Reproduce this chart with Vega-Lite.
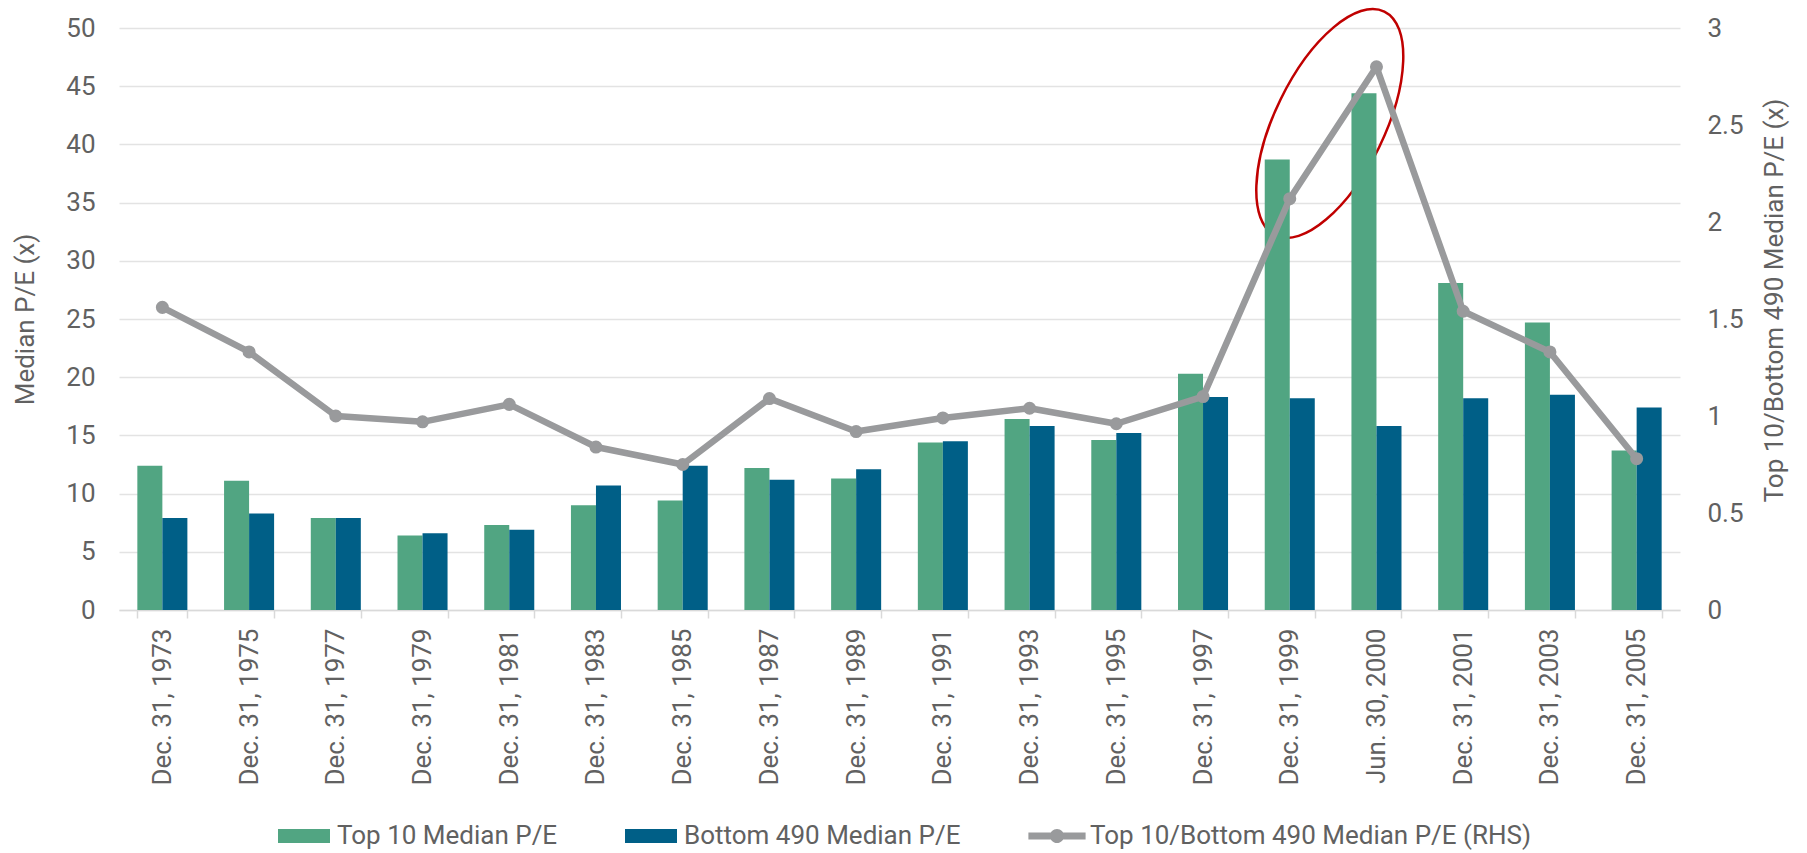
{
  "$schema": "https://vega.github.io/schema/vega-lite/v6.json",
  "width": 1561,
  "height": 582,
  "autosize": {"type": "none"},
  "padding": {"left": 119, "top": 28, "right": 127, "bottom": 243},
  "background": "white",
  "config": {
    "view": {"stroke": null},
    "font": "Roboto",
    "axis": {"labelFont": "Roboto", "titleFont": "Roboto", "labelFontSize": 26, "titleFontSize": 26, "labelColor": "#616161", "titleColor": "#616161", "titleFontWeight": "normal"},
    "legend": {"labelFont": "Roboto", "labelFontSize": 26, "labelColor": "#616161", "labelLimit": 0}
  },
  "datasets": {
    "bars": [
      {"period": "Dec. 31, 1973", "series": "Top 10 Median P/E", "pe": 12.4},
      {"period": "Dec. 31, 1973", "series": "Bottom 490 Median P/E", "pe": 7.9},
      {"period": "Dec. 31, 1975", "series": "Top 10 Median P/E", "pe": 11.1},
      {"period": "Dec. 31, 1975", "series": "Bottom 490 Median P/E", "pe": 8.3},
      {"period": "Dec. 31, 1977", "series": "Top 10 Median P/E", "pe": 7.9},
      {"period": "Dec. 31, 1977", "series": "Bottom 490 Median P/E", "pe": 7.9},
      {"period": "Dec. 31, 1979", "series": "Top 10 Median P/E", "pe": 6.4},
      {"period": "Dec. 31, 1979", "series": "Bottom 490 Median P/E", "pe": 6.6},
      {"period": "Dec. 31, 1981", "series": "Top 10 Median P/E", "pe": 7.3},
      {"period": "Dec. 31, 1981", "series": "Bottom 490 Median P/E", "pe": 6.9},
      {"period": "Dec. 31, 1983", "series": "Top 10 Median P/E", "pe": 9.0},
      {"period": "Dec. 31, 1983", "series": "Bottom 490 Median P/E", "pe": 10.7},
      {"period": "Dec. 31, 1985", "series": "Top 10 Median P/E", "pe": 9.4},
      {"period": "Dec. 31, 1985", "series": "Bottom 490 Median P/E", "pe": 12.4},
      {"period": "Dec. 31, 1987", "series": "Top 10 Median P/E", "pe": 12.2},
      {"period": "Dec. 31, 1987", "series": "Bottom 490 Median P/E", "pe": 11.2},
      {"period": "Dec. 31, 1989", "series": "Top 10 Median P/E", "pe": 11.3},
      {"period": "Dec. 31, 1989", "series": "Bottom 490 Median P/E", "pe": 12.1},
      {"period": "Dec. 31, 1991", "series": "Top 10 Median P/E", "pe": 14.4},
      {"period": "Dec. 31, 1991", "series": "Bottom 490 Median P/E", "pe": 14.5},
      {"period": "Dec. 31, 1993", "series": "Top 10 Median P/E", "pe": 16.4},
      {"period": "Dec. 31, 1993", "series": "Bottom 490 Median P/E", "pe": 15.8},
      {"period": "Dec. 31, 1995", "series": "Top 10 Median P/E", "pe": 14.6},
      {"period": "Dec. 31, 1995", "series": "Bottom 490 Median P/E", "pe": 15.2},
      {"period": "Dec. 31, 1997", "series": "Top 10 Median P/E", "pe": 20.3},
      {"period": "Dec. 31, 1997", "series": "Bottom 490 Median P/E", "pe": 18.3},
      {"period": "Dec. 31, 1999", "series": "Top 10 Median P/E", "pe": 38.7},
      {"period": "Dec. 31, 1999", "series": "Bottom 490 Median P/E", "pe": 18.2},
      {"period": "Jun. 30, 2000", "series": "Top 10 Median P/E", "pe": 44.4},
      {"period": "Jun. 30, 2000", "series": "Bottom 490 Median P/E", "pe": 15.8},
      {"period": "Dec. 31, 2001", "series": "Top 10 Median P/E", "pe": 28.1},
      {"period": "Dec. 31, 2001", "series": "Bottom 490 Median P/E", "pe": 18.2},
      {"period": "Dec. 31, 2003", "series": "Top 10 Median P/E", "pe": 24.7},
      {"period": "Dec. 31, 2003", "series": "Bottom 490 Median P/E", "pe": 18.5},
      {"period": "Dec. 31, 2005", "series": "Top 10 Median P/E", "pe": 13.7},
      {"period": "Dec. 31, 2005", "series": "Bottom 490 Median P/E", "pe": 17.4}
    ],
    "ratio": [
      {"period": "Dec. 31, 1973", "series": "Top 10/Bottom 490 Median P/E (RHS)", "ratio": 1.56},
      {"period": "Dec. 31, 1975", "series": "Top 10/Bottom 490 Median P/E (RHS)", "ratio": 1.33},
      {"period": "Dec. 31, 1977", "series": "Top 10/Bottom 490 Median P/E (RHS)", "ratio": 1.0},
      {"period": "Dec. 31, 1979", "series": "Top 10/Bottom 490 Median P/E (RHS)", "ratio": 0.97},
      {"period": "Dec. 31, 1981", "series": "Top 10/Bottom 490 Median P/E (RHS)", "ratio": 1.06},
      {"period": "Dec. 31, 1983", "series": "Top 10/Bottom 490 Median P/E (RHS)", "ratio": 0.84},
      {"period": "Dec. 31, 1985", "series": "Top 10/Bottom 490 Median P/E (RHS)", "ratio": 0.75},
      {"period": "Dec. 31, 1987", "series": "Top 10/Bottom 490 Median P/E (RHS)", "ratio": 1.09},
      {"period": "Dec. 31, 1989", "series": "Top 10/Bottom 490 Median P/E (RHS)", "ratio": 0.92},
      {"period": "Dec. 31, 1991", "series": "Top 10/Bottom 490 Median P/E (RHS)", "ratio": 0.99},
      {"period": "Dec. 31, 1993", "series": "Top 10/Bottom 490 Median P/E (RHS)", "ratio": 1.04},
      {"period": "Dec. 31, 1995", "series": "Top 10/Bottom 490 Median P/E (RHS)", "ratio": 0.96},
      {"period": "Dec. 31, 1997", "series": "Top 10/Bottom 490 Median P/E (RHS)", "ratio": 1.10},
      {"period": "Dec. 31, 1999", "series": "Top 10/Bottom 490 Median P/E (RHS)", "ratio": 2.12},
      {"period": "Jun. 30, 2000", "series": "Top 10/Bottom 490 Median P/E (RHS)", "ratio": 2.80},
      {"period": "Dec. 31, 2001", "series": "Top 10/Bottom 490 Median P/E (RHS)", "ratio": 1.54},
      {"period": "Dec. 31, 2003", "series": "Top 10/Bottom 490 Median P/E (RHS)", "ratio": 1.33},
      {"period": "Dec. 31, 2005", "series": "Top 10/Bottom 490 Median P/E (RHS)", "ratio": 0.78}
    ],
    "highlight": [
      {"period": "Dec. 31, 1999", "pe": 41.8}
    ]
  },
  "layer": [
    {
      "layer": [
        {
          "data": {"name": "highlight"},
          "mark": {"type": "point", "shape": "M1,0C1,0.243,0.5523,0.44,0,0.44C-0.5523,0.44,-1,0.243,-1,0C-1,-0.243,-0.5523,-0.44,0,-0.44C0.5523,-0.44,1,-0.243,1,0Z", "size": 62001, "angle": 296, "filled": false, "stroke": "#C00000", "strokeWidth": 2.5, "opacity": 1},
          "encoding": {
            "x": {"field": "period", "type": "nominal", "bandPosition": 1.3, "sort": ["Dec. 31, 1973", "Dec. 31, 1975", "Dec. 31, 1977", "Dec. 31, 1979", "Dec. 31, 1981", "Dec. 31, 1983", "Dec. 31, 1985", "Dec. 31, 1987", "Dec. 31, 1989", "Dec. 31, 1991", "Dec. 31, 1993", "Dec. 31, 1995", "Dec. 31, 1997", "Dec. 31, 1999", "Jun. 30, 2000", "Dec. 31, 2001", "Dec. 31, 2003", "Dec. 31, 2005"]},
            "y": {"field": "pe", "type": "quantitative", "title": "Median P/E (x)"}
          }
        },
        {
          "data": {"name": "bars"},
          "mark": {"type": "bar"},
          "encoding": {
            "x": {
              "field": "period", "type": "nominal",
              "sort": ["Dec. 31, 1973", "Dec. 31, 1975", "Dec. 31, 1977", "Dec. 31, 1979", "Dec. 31, 1981", "Dec. 31, 1983", "Dec. 31, 1985", "Dec. 31, 1987", "Dec. 31, 1989", "Dec. 31, 1991", "Dec. 31, 1993", "Dec. 31, 1995", "Dec. 31, 1997", "Dec. 31, 1999", "Jun. 30, 2000", "Dec. 31, 2001", "Dec. 31, 2003", "Dec. 31, 2005"],
              "scale": {"paddingInner": 0.423, "paddingOuter": 0.2115},
              "axis": {"title": null, "labelAngle": -90, "tickBand": "extent", "grid": false, "domainColor": "#D9D9D9", "domainWidth": 1.5, "tickColor": "#D9D9D9", "tickWidth": 1.5, "tickSize": 8, "labelPadding": 10}
            },
            "xOffset": {"field": "series", "type": "nominal", "sort": ["Top 10 Median P/E", "Bottom 490 Median P/E"]},
            "y": {
              "field": "pe", "type": "quantitative",
              "scale": {"domain": [0, 50], "nice": false},
              "axis": {"title": "Median P/E (x)", "values": [0, 5, 10, 15, 20, 25, 30, 35, 40, 45, 50], "grid": true, "gridColor": "#E3E3E3", "gridWidth": 1.5, "domain": false, "ticks": false, "tickSize": 0, "labelPadding": 24, "titlePadding": 27}
            },
            "color": {
              "field": "series", "type": "nominal",
              "scale": {"domain": ["Top 10 Median P/E", "Bottom 490 Median P/E", "Top 10/Bottom 490 Median P/E (RHS)"], "range": ["#51A582", "#005F87", "#999A9C"]},
              "legend": {
                "title": null, "orient": "none", "direction": "horizontal", "legendX": 159, "legendY": 782,
                "padding": 0, "columnPadding": 67, "labelOffset": 7, "labelLimit": 0, "symbolSize": 2704, "symbolStrokeWidth": 0,
                "encode": {
                  "symbols": {
                    "update": {
                      "shape": {"signal": "datum.value === 'Top 10/Bottom 490 Median P/E (RHS)' ? 'M-1.1,-0.135H1.1V0.135H-1.1Z M0.27,0C0.27,0.149,0.149,0.27,0,0.27C-0.149,0.27,-0.27,0.149,-0.27,0C-0.27,-0.149,-0.149,-0.27,0,-0.27C0.149,-0.27,0.27,-0.149,0.27,0Z' : 'M-1,-0.27H1V0.27H-1Z'"},
                      "fill": {"scale": "color", "field": "value"},
                      "stroke": {"value": "transparent"},
                      "opacity": {"value": 1}
                    }
                  }
                }
              }
            }
          }
        }
      ]
    },
    {
      "data": {"name": "ratio"},
      "encoding": {
        "x": {"field": "period", "type": "nominal", "sort": ["Dec. 31, 1973", "Dec. 31, 1975", "Dec. 31, 1977", "Dec. 31, 1979", "Dec. 31, 1981", "Dec. 31, 1983", "Dec. 31, 1985", "Dec. 31, 1987", "Dec. 31, 1989", "Dec. 31, 1991", "Dec. 31, 1993", "Dec. 31, 1995", "Dec. 31, 1997", "Dec. 31, 1999", "Jun. 30, 2000", "Dec. 31, 2001", "Dec. 31, 2003", "Dec. 31, 2005"]},
        "y": {
          "field": "ratio", "type": "quantitative",
          "scale": {"domain": [0, 3], "nice": false},
          "axis": {"orient": "right", "title": "Top 10/Bottom 490 Median P/E (x)", "titleAngle": -90, "titleBaseline": "top", "titleY": 272, "format": "~g", "values": [0, 0.5, 1, 1.5, 2, 2.5, 3], "grid": false, "domain": false, "ticks": false, "tickSize": 0, "labelPadding": 27, "titlePadding": 18}
        },
        "color": {"field": "series", "type": "nominal"}
      },
      "layer": [
        {"mark": {"type": "line", "strokeWidth": 6.5, "strokeJoin": "round"}},
        {"mark": {"type": "point", "filled": true, "size": 170, "opacity": 1}}
      ]
    }
  ],
  "resolve": {"scale": {"y": "independent"}}
}
